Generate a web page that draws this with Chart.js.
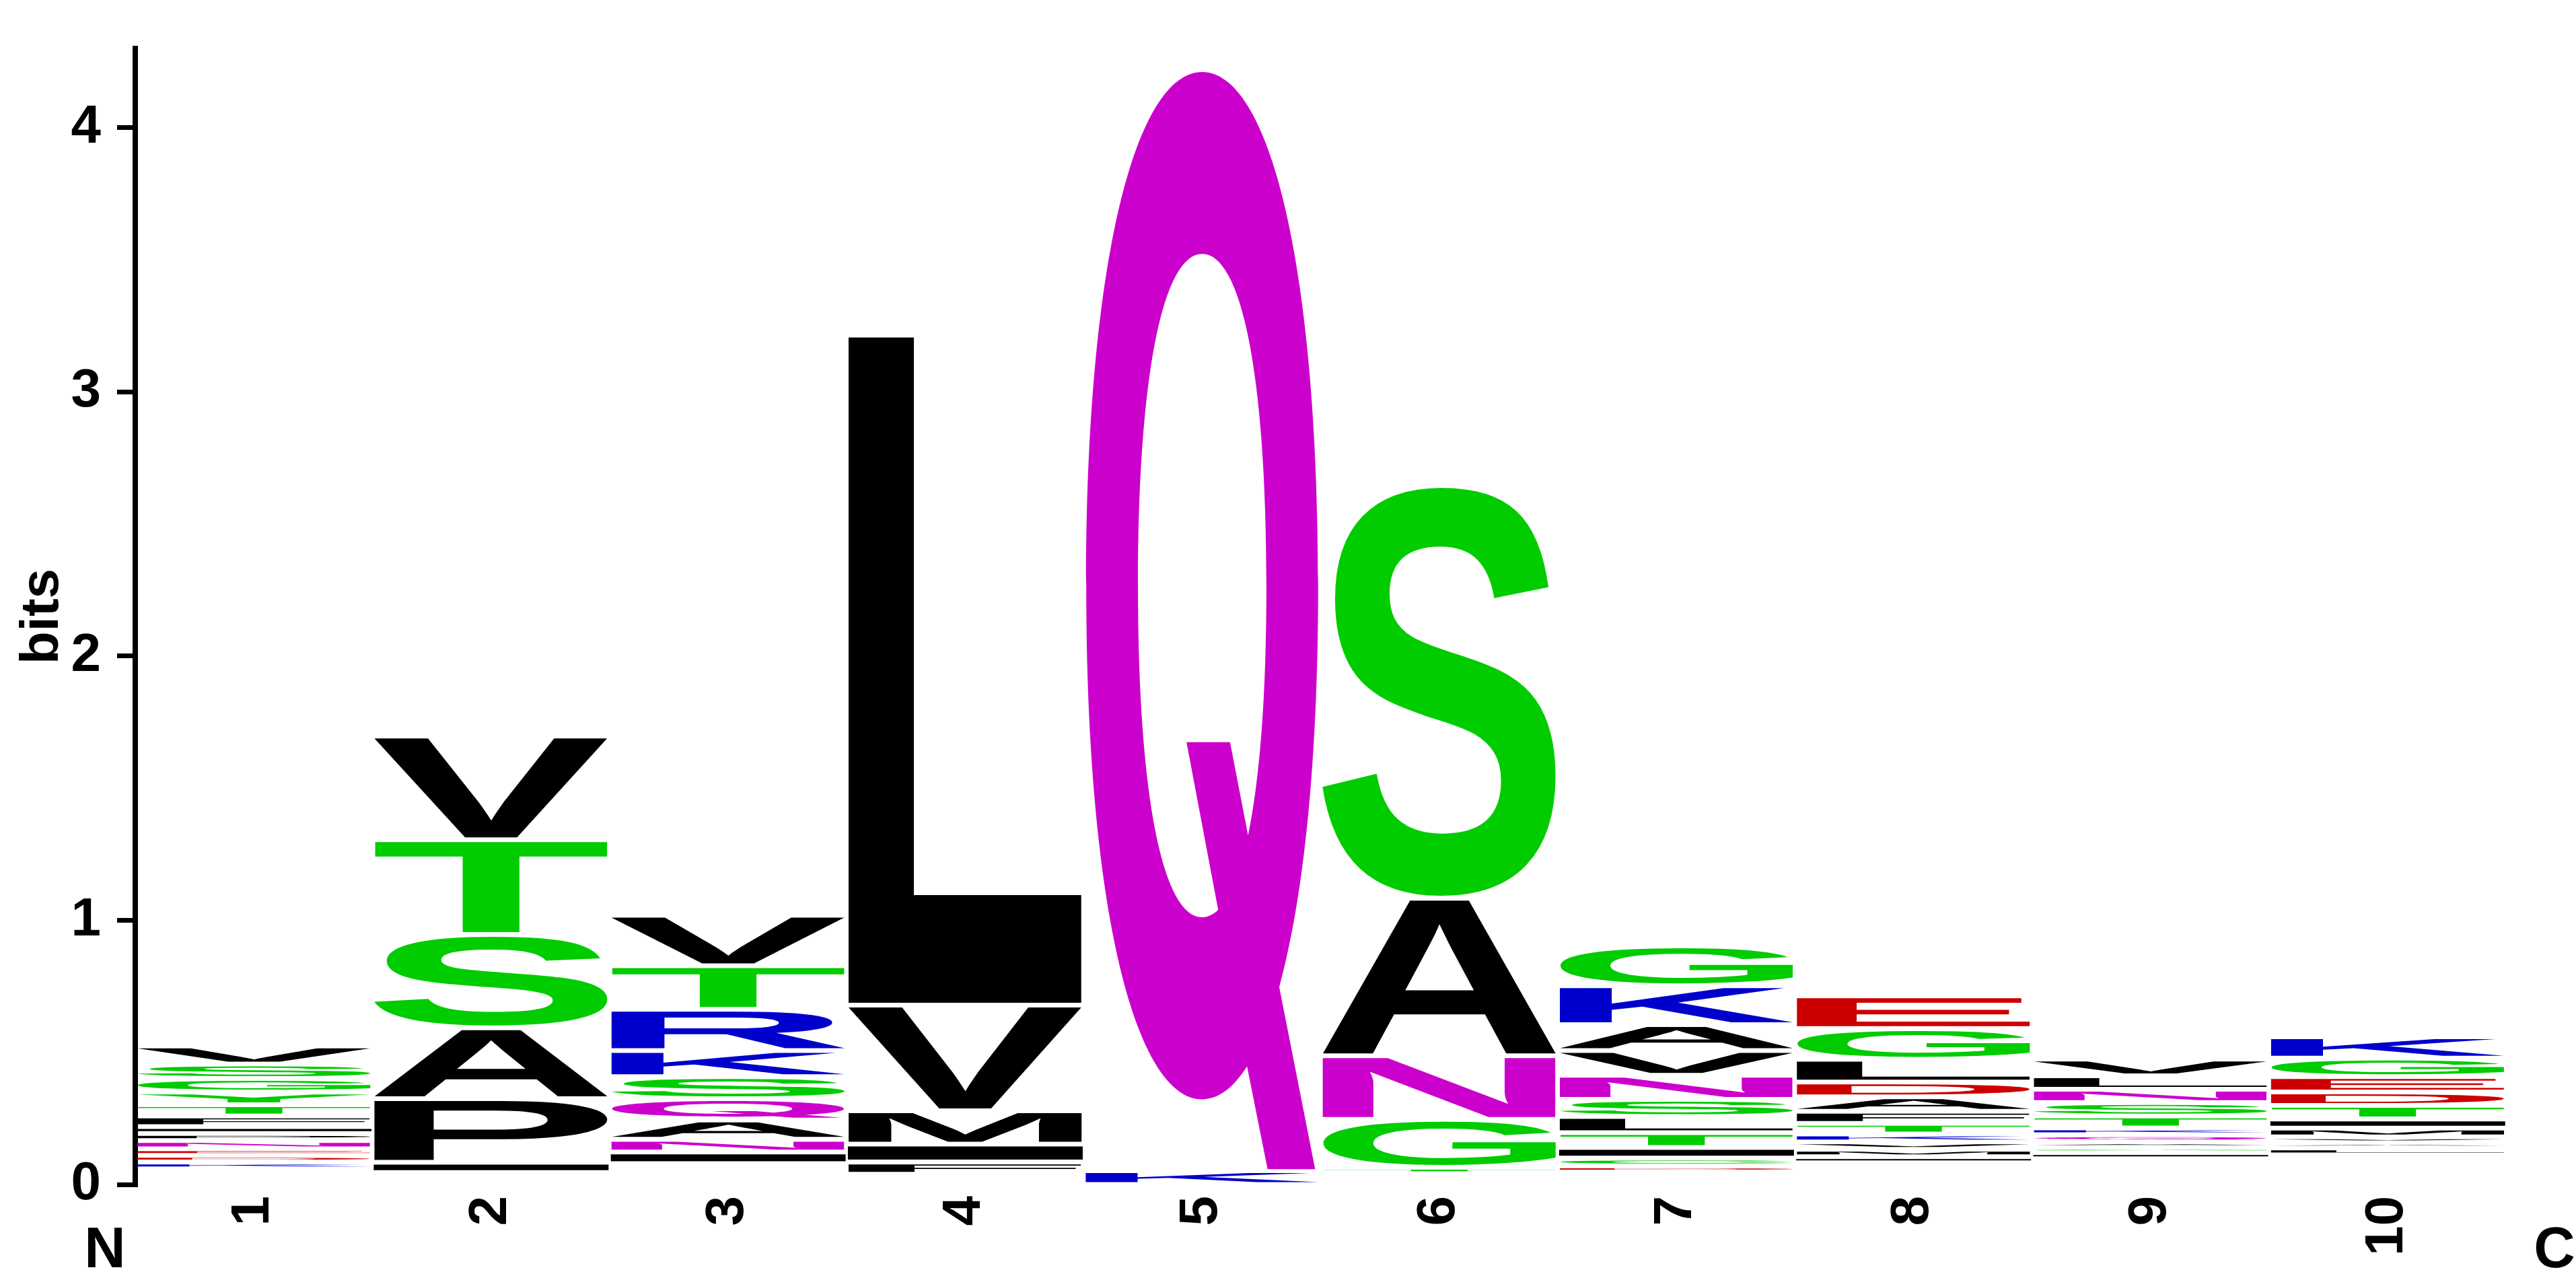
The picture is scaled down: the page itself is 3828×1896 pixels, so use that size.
<!DOCTYPE html>
<html>
<head>
<meta charset="utf-8">
<title>Sequence logo</title>
<script src="https://cdn.jsdelivr.net/npm/chart.js@4.4.0/dist/chart.umd.min.js"></script>
<style>
  html, body { margin: 0; padding: 0; background: #fff; }
  #wrap { width: 3828px; height: 1896px; }
</style>
</head>
<body>
<div id="wrap"><canvas id="logo-chart"></canvas></div>
<script>
// Positions along the motif (x axis)
const positions = ["1", "2", "3", "4", "5", "6", "7", "8", "9", "10"];

// y axis ticks and top of the scale, in bits
const yTicks = [0, 1, 2, 3, 4];
const yMax = 4.3;

// Residues stacked at each position, bottom of the stack first
const stackResidues = [
    "WHCMKDENPIFTYGSV",
    "WHCIPASTV",
    "WHCFMINAQSKRTV",
    "WHCFIMVL",
    "KQ",
    "WHCTGNAS",
    "WHMDCITLSNVAKG",
    "WHCYNIMVKTFADLGE",
    "WHCFYMIGAQKTSNLV",
    "WHCFYNQLAVMITDEGK",
];

// Height of every letter in bits (same order as stackResidues)
const stackBits = [
    [0.017, 0.017, 0.017, 0.017, 0.026, 0.025, 0.025, 0.031, 0.027, 0.026, 0.040, 0.043, 0.048, 0.051, 0.055, 0.068],
    [0.018, 0.018, 0.018, 0.039, 0.241, 0.268, 0.353, 0.359, 0.392],
    [0.0176, 0.0176, 0.0176, 0.0176, 0.0176, 0.044, 0.048, 0.073, 0.081, 0.083, 0.099, 0.156, 0.165, 0.191],
    [0.016, 0.016, 0.016, 0.046, 0.068, 0.126, 0.400, 2.534],
    [0.061, 4.169],
    [0.0167, 0.0167, 0.0167, 0.024, 0.181, 0.241, 0.596, 1.561],
    [0.0187, 0.0187, 0.0187, 0.023, 0.030, 0.040, 0.056, 0.061, 0.065, 0.091, 0.094, 0.098, 0.147, 0.151],
    [0.0182, 0.0182, 0.0182, 0.0182, 0.0182, 0.023, 0.028, 0.028, 0.030, 0.040, 0.046, 0.055, 0.056, 0.086, 0.116, 0.124],
    [0.0177, 0.0177, 0.0177, 0.0177, 0.0177, 0.0177, 0.023, 0.020, 0.021, 0.027, 0.026, 0.045, 0.051, 0.050, 0.051, 0.063],
    [0.0173, 0.0173, 0.0173, 0.0173, 0.0173, 0.0173, 0.0173, 0.026, 0.020, 0.022, 0.033, 0.035, 0.051, 0.051, 0.058, 0.070, 0.081],
];

// "chemistry" colour scheme
const residueColors = {
    G: "#00cc00", S: "#00cc00", T: "#00cc00", Y: "#00cc00", C: "#00cc00",
    N: "#cc00cc", Q: "#cc00cc",
    K: "#0000cc", R: "#0000cc", H: "#0000cc",
    D: "#cc0000", E: "#cc0000",
    A: "#000000", V: "#000000", L: "#000000", I: "#000000", P: "#000000",
    W: "#000000", F: "#000000", M: "#000000",
};

const FONT = '"Liberation Sans", Arial, Helvetica, sans-serif';
// Q's tail in Inter is closer to the Helvetica one
const Q_FONT = 'Inter, "Liberation Sans", sans-serif';

// One dataset per stack level, so bars stack bottom to top
const depth = Math.max(...stackBits.map((b) => b.length));
const datasets = [];
for (let k = 0; k < depth; k++) {
    datasets.push({
        data: stackBits.map((b) => b[k] || 0),
        residues: stackResidues.map((r) => r[k] || ""),
        backgroundColor: "rgba(0,0,0,0)",
        borderWidth: 0,
        barPercentage: 1,
        categoryPercentage: 0.98,
    });
}

// Find the real ink box of a glyph by drawing it once off screen
const glyphCache = {};
function glyphBounds(ch, font) {
    const key = font + "|" + ch;
    if (glyphCache[key]) return glyphCache[key];
    const size = 640, ox = 120, oy = 480;
    const c = document.createElement("canvas");
    c.width = size;
    c.height = size;
    const g = c.getContext("2d");
    g.font = font;
    g.textAlign = "left";
    g.textBaseline = "alphabetic";
    g.fillStyle = "#000";
    g.fillText(ch, ox, oy);
    const px = g.getImageData(0, 0, size, size).data;
    let x0 = size, y0 = size, x1 = -1, y1 = -1;
    for (let y = 0; y < size; y++) {
        for (let x = 0; x < size; x++) {
            if (px[(y * size + x) * 4 + 3] > 127) {
                if (x < x0) x0 = x;
                if (x > x1) x1 = x;
                if (y < y0) y0 = y;
                if (y > y1) y1 = y;
            }
        }
    }
    const b = { x: x0 - ox, y: y0 - oy, w: x1 - x0 + 1, h: y1 - y0 + 1 };
    glyphCache[key] = b;
    return b;
}

// Stretch a bold glyph so its ink fills the given box
function drawGlyph(ctx, ch, color, x0, y0, w, h) {
    const font = "bold 400px " + (ch === "Q" ? Q_FONT : FONT);
    const b = glyphBounds(ch, font);
    ctx.save();
    ctx.font = font;
    ctx.textAlign = "left";
    ctx.textBaseline = "alphabetic";
    ctx.translate(x0, y0);
    ctx.scale(w / b.w, h / b.h);
    ctx.fillStyle = color;
    ctx.fillText(ch, -b.x, -b.y);
    ctx.restore();
}

const glyphPlugin = {
    id: "glyphs",
    afterDatasetsDraw(chart) {
        const ctx = chart.ctx;
        const yScale = chart.scales.y;
        // small white gap above each letter
        const gap = (yScale.getPixelForValue(0) - yScale.getPixelForValue(1)) * 0.018;
        chart.data.datasets.forEach((ds, di) => {
            chart.getDatasetMeta(di).data.forEach((bar, i) => {
                const ch = ds.residues[i];
                if (!ch) return;
                const p = bar.getProps(["x", "y", "base", "width"], true);
                const top = Math.min(p.y, p.base) + gap;
                const h = Math.abs(p.base - p.y) - gap;
                if (h < 0.5) return;
                drawGlyph(ctx, ch, residueColors[ch], p.x - p.width / 2, top, p.width, h);
            });
        });
    },
    afterDraw(chart) {
        // N and C terminus marks under the axis ends
        const ctx = chart.ctx;
        const area = chart.chartArea;
        ctx.save();
        ctx.font = "bold 85px " + FONT;
        ctx.fillStyle = "#000";
        ctx.textAlign = "center";
        ctx.textBaseline = "middle";
        ctx.fillText("N", area.left - 45, 1860);
        ctx.fillText("C", area.right + 72, 1860);
        ctx.restore();
    },
};

const ctx = document.getElementById("logo-chart").getContext("2d");
new Chart(ctx, {
    type: "bar",
    data: { labels: positions, datasets: datasets },
    plugins: [glyphPlugin],
    options: {
        responsive: true,
        maintainAspectRatio: false,
        animation: false,
        events: [],
        layout: { padding: { top: 58, right: 104, bottom: 0, left: 0 } },
        plugins: {
            legend: { display: false },
            tooltip: { enabled: false },
        },
        scales: {
            x: {
                stacked: true,
                grid: { display: false, drawTicks: false },
                border: { display: false },
                ticks: {
                    autoSkip: false,
                    minRotation: 90,
                    maxRotation: 90,
                    padding: 17,
                    color: "#000",
                    font: { family: FONT, weight: "bold", size: 80 },
                },
                afterFit(scale) { scale.height = 136; },
            },
            y: {
                stacked: true,
                min: 0,
                max: yMax,
                afterBuildTicks(scale) { scale.ticks = yTicks.map((v) => ({ value: v })); },
                ticks: {
                    padding: 24,
                    color: "#000",
                    font: { family: FONT, weight: "bold", size: 80 },
                },
                grid: {
                    drawOnChartArea: false,
                    drawTicks: true,
                    tickLength: 27,
                    lineWidth: 7,
                    color: "#000",
                },
                border: { display: true, width: 8, color: "#000" },
                title: {
                    display: true,
                    text: "bits",
                    color: "#000",
                    font: { family: FONT, weight: "bold", size: 80 },
                    padding: { top: 16, bottom: 0 },
                },
                afterFit(scale) { scale.width = 201; },
            },
        },
    },
});
</script>
</body>
</html>
